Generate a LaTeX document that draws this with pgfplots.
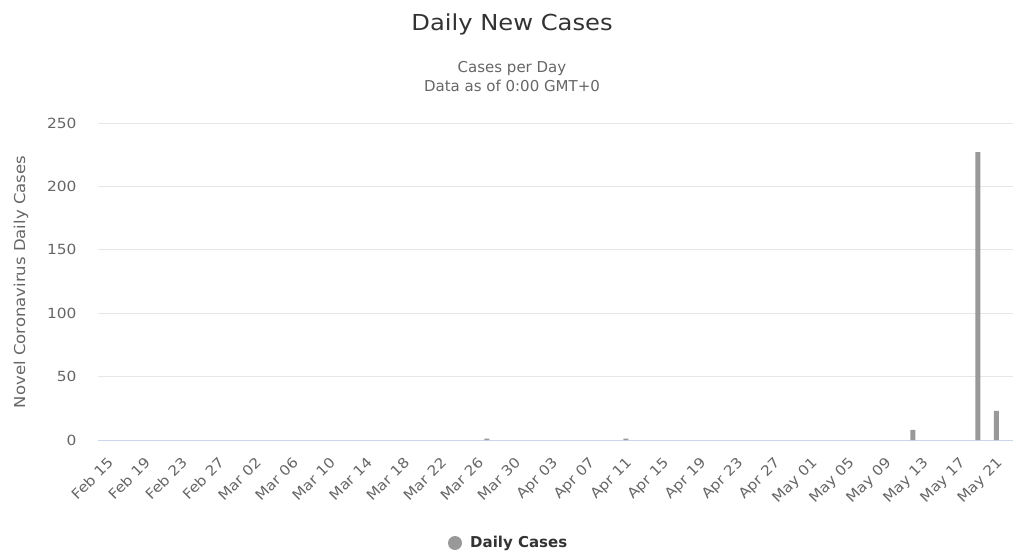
\documentclass[border=0pt]{standalone}
\usepackage{fontspec}
\setmainfont{DejaVu Sans}
\newfontfamily\widesans[FakeStretch=1.1]{DejaVu Sans}
\usepackage{pgfplots}
\pgfplotsset{compat=1.18}

\definecolor{titletxt}{HTML}{333333}
\definecolor{subtxt}{HTML}{666666}
\definecolor{gridgray}{HTML}{E6E6E6}
\definecolor{axisblue}{HTML}{CCD6EB}
\definecolor{bargray}{HTML}{999999}

% day index counted from Feb 15 (day 0) to May 22 (day 97)
\pgfplotstableread{
day cases
42  1
57  1
88  8
95  227
97  23
}\dailycases

\begin{document}
\begin{tikzpicture}[x=1pt,y=1pt]
\path (0,0) rectangle (1015,558);

\begin{axis}[
  at={(98pt,118pt)}, anchor=south west,
  width=915pt, height=317pt, scale only axis,
  xmin=0, xmax=98.8, ymin=0, ymax=250,
  ytick={0,50,...,250},
  xtick={0,4,...,96},
  xticklabels={Feb 15,Feb 19,Feb 23,Feb 27,Mar 02,Mar 06,Mar 10,Mar 14,Mar 18,Mar 22,Mar 26,Mar 30,Apr 03,Apr 07,Apr 11,Apr 15,Apr 19,Apr 23,Apr 27,May 01,May 05,May 09,May 13,May 17,May 21},
  axis lines*=left,
  y axis line style={draw=none},
  x axis line style={draw=axisblue, line width=1pt, -},
  major tick length=0pt,
  ymajorgrids, grid style={draw=gridgray, line width=1pt},
  /pgf/number format/assume math mode=true,
  tick label style={font=\widesans\fontsize{14}{16}\selectfont, text=subtxt},
  yticklabel style={xshift=-18pt},
  xticklabel style={rotate=45, anchor=north east, xshift=-2pt, yshift=-14pt},
  ybar, bar width=5pt,
  clip=false,
]
\addplot[fill=bargray, draw=none] table[x=day, y=cases] {\dailycases};
\end{axis}

% titles
\node[text=titletxt, font=\widesans\fontsize{22}{26}\selectfont] at (512,534) {Daily New Cases};
\node[text=subtxt, font=\fontsize{15}{17}\selectfont] at (512,490) {Cases per Day};
\node[text=subtxt, font=\fontsize{15}{17}\selectfont] at (512,472) {Data as of 0:00 GMT+0};

% y axis title
\node[text=subtxt, font=\widesans\fontsize{15}{17}\selectfont, rotate=90] at (21,276) {Novel Coronavirus Daily Cases};

% legend
\fill[bargray] (455,15) circle (7);
\node[anchor=west, text=titletxt, font=\fontsize{15}{17}\selectfont\bfseries, inner sep=0pt] at (470,15) {Daily Cases};
\end{tikzpicture}
\end{document}
